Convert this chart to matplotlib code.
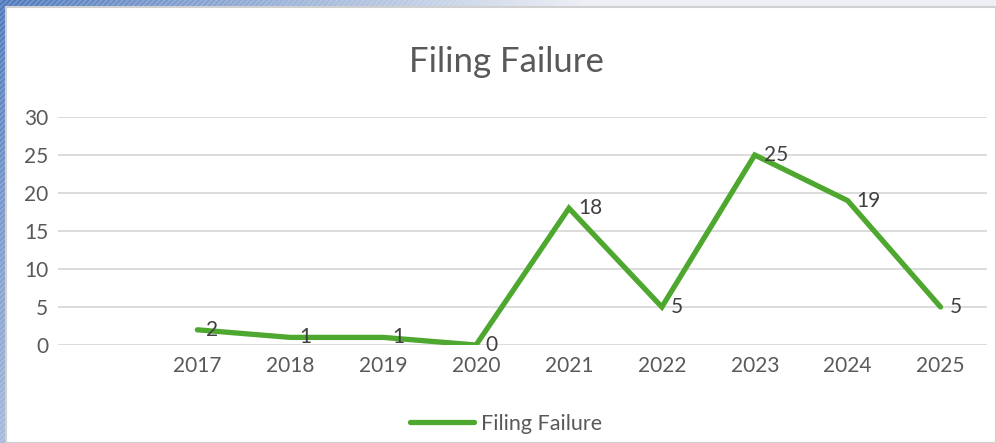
import numpy as np
import matplotlib.pyplot as plt
from matplotlib.patches import Rectangle

# chart data
categories = ['', '2017', '2018', '2019', '2020', '2021', '2022', '2023', '2024', '2025']
values = [2, 1, 1, 0, 18, 5, 25, 19, 5]
series_name = 'Filing Failure'

green = '#4EA72E'
grey_text = '#595959'

plt.rcParams['font.family'] = ['Lato', 'DejaVu Sans']

fig = plt.figure(figsize=(9.96, 4.43), dpi=100)

# blue window texture behind the chart (top-left corner)
bg = fig.add_axes([0, 0, 1, 1], zorder=-10)
h, w = 443, 996
yy, xx = np.mgrid[0:h, 0:w]
fade = np.clip(0.9 - xx / 650.0 - yy / 900.0, 0.12, 1)
fade = np.where(xx > 300, np.clip(0.9 - xx / 650.0, 0, 1), fade)
stripes = 0.07 * np.sin((xx + yy) * 1.2)
base = np.array([0.93, 0.94, 0.96])
blue = np.array([0.30, 0.47, 0.74])
img = base[None, None, :] * (1 - fade[..., None]) + blue[None, None, :] * fade[..., None]
img = np.clip(img + stripes[..., None] * fade[..., None], 0, 1)
bg.imshow(img, extent=[0, 1, 0, 1], aspect='auto')
bg.axis('off')

# white chart area with thin grey border
fig.patches.append(Rectangle((6 / w, 0), 1 - 6 / w, 1 - 7 / h, transform=fig.transFigure,
                             facecolor='white', edgecolor='#d0d0d0', linewidth=1.5, zorder=-5))

ax = fig.add_axes([58 / w, 1 - 345 / h, (987 - 58) / w, (345 - 117) / h])
ax.set_facecolor('none')

x = np.arange(1, len(categories))
ax.plot(x, values, color=green, linewidth=3.8, solid_capstyle='round', solid_joinstyle='miter', zorder=3)
for xi, v in zip(x, values):
    ax.annotate(str(v), (xi, v), xytext=(6.5, 0), textcoords='offset points',
                ha='left', va='center', fontsize=15, color='#404040', zorder=4)

ax.set_xlim(-0.5, len(categories) - 0.5)
ax.set_ylim(0, 30)
ax.set_yticks(range(0, 31, 5))
ax.set_xticks(range(len(categories)))
ax.set_xticklabels(categories)
ax.grid(axis='y', color='#d9d9d9', linewidth=1.3)
ax.set_axisbelow(True)
for s in ax.spines.values():
    s.set_visible(False)
ax.tick_params(length=0, labelsize=15, labelcolor=grey_text)
ax.tick_params(axis='x', pad=8)
ax.tick_params(axis='y', pad=7)

fig.text(506 / w, 1 - 62 / h, 'Filing Failure', ha='center', va='center', fontsize=25, color=grey_text)

# legend
fig.legend(handles=ax.get_lines(), labels=[series_name], loc='center', bbox_to_anchor=(506 / w, 1 - 424 / h),
           frameon=False, fontsize=15.5, labelcolor=grey_text, handlelength=3.0, handletextpad=0.3)

fig.savefig('out.png', dpi=100)
